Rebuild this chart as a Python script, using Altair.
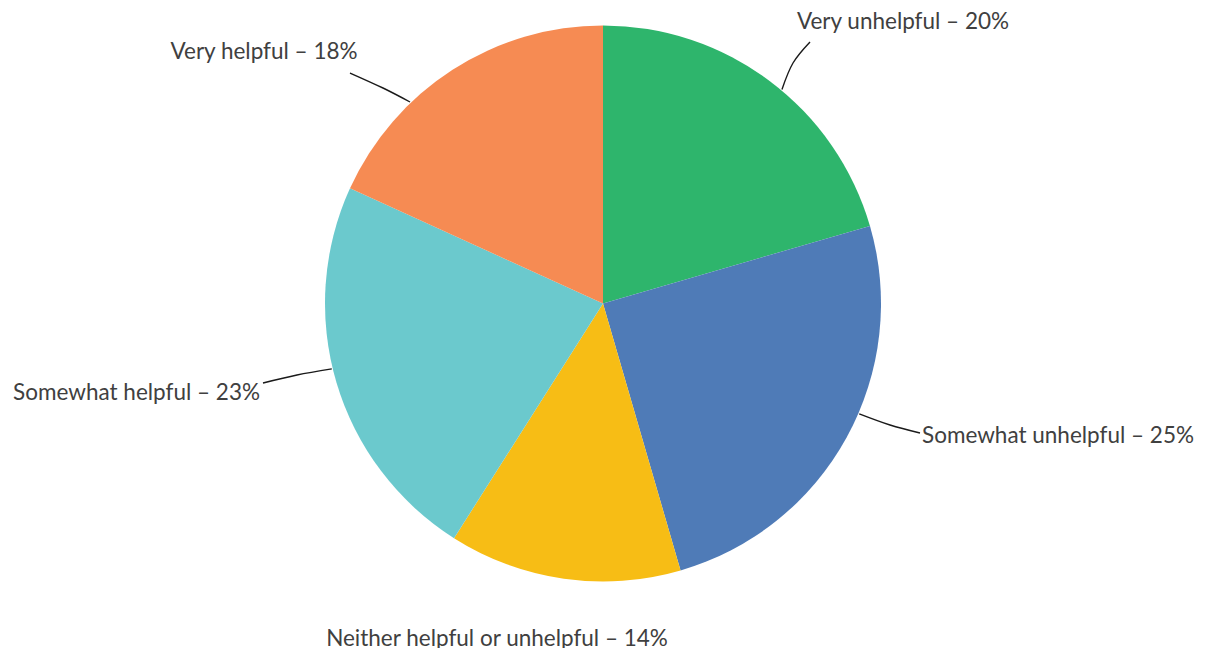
import math
import altair as alt
import pandas as pd

# ---- data ----
categories = [
    "Very unhelpful",
    "Somewhat unhelpful",
    "Neither helpful or unhelpful",
    "Somewhat helpful",
    "Very helpful",
]
shares = [20.5, 25.0, 13.5, 22.8, 18.2]
label_pcts = ["20%", "25%", "14%", "23%", "18%"]
colors = ["#2EB56C", "#4F7BB7", "#F7BD15", "#6BC9CD", "#F68B53"]

# ---- layout (pixels, chart coordinates) ----
CX, CY, R = 595, 295.5, 278
W, H = 1194, 640
# label anchor: x, baseline y, align
label_layout = {
    "Very unhelpful": (895, 21, "center"),
    "Somewhat unhelpful": (914, 435, "left"),
    "Neither helpful or unhelpful": (489, 638, "center"),
    "Somewhat helpful": (252, 392, "right"),
    "Very helpful": (256, 51, "center"),
}
# leader: angle nudge (deg) for pie end, mid point, label end
leader_layout = {
    "Very unhelpful": (3.0, (785, 55), (802, 34)),
    "Somewhat unhelpful": (-5.5, (882, 417), (912, 425)),
    "Somewhat helpful": (3.0, (289, 367), (255, 375)),
    "Very helpful": (-11.0, (375, 80), (342, 65)),
}

df = pd.DataFrame({
    "idx": list(range(len(categories))),
    "category": categories,
    "share": shares,
    "label": [f"{c} \u2013 {p}" for c, p in zip(categories, label_pcts)],
})
df["lx"] = [label_layout[c][0] for c in categories]
df["ly"] = [label_layout[c][1] for c in categories]
df["align"] = [label_layout[c][2] for c in categories]

# mid angles from data
total = sum(shares)
cum = 0.0
mids = {}
for c, s in zip(categories, shares):
    mids[c] = (cum + s / 2) / total * 360.0
    cum += s

rows = []
for c, (nudge, mid, end) in leader_layout.items():
    a = math.radians(mids[c] + nudge)
    px = CX + (R + 1) * math.sin(a)
    py = CY - (R + 1) * math.cos(a)
    pts = [(px, py), mid, end]
    for k, (x, y) in enumerate(pts):
        rows.append({"category": c, "k": k, "x": x, "y": y})
lead = pd.DataFrame(rows)

base = alt.Chart(df)

arcs = base.mark_arc(radius=R, stroke=None).encode(
    theta=alt.Theta("share:Q", stack=True),
    color=alt.Color("category:N", scale=alt.Scale(domain=categories, range=colors), legend=None),
    order=alt.Order("idx:Q"),
    x=alt.value(CX),
    y=alt.value(CY),
)

lines = alt.Chart(lead).mark_line(color="#1a1a1a", strokeWidth=1.4, interpolate="natural").encode(
    x=alt.X("x:Q", scale=None, axis=None),
    y=alt.Y("y:Q", scale=None, axis=None),
    detail="category:N",
    order="k:Q",
)

FONT = "Lato"
FS = 22.5
TC = "#404040"


def txt(align):
    return alt.Chart(df[df["align"] == align]).mark_text(
        font=FONT, fontSize=FS, color=TC, align=align, baseline="alphabetic"
    ).encode(
        x=alt.X("lx:Q", scale=None, axis=None),
        y=alt.Y("ly:Q", scale=None, axis=None),
        text="label:N",
    )


chart = alt.layer(arcs, lines, txt("left"), txt("right"), txt("center")).properties(
    width=W, height=H, padding=0, autosize="none"
).configure_view(stroke=None)

chart.save("out.html", embed_options={"renderer": "svg", "actions": False})
